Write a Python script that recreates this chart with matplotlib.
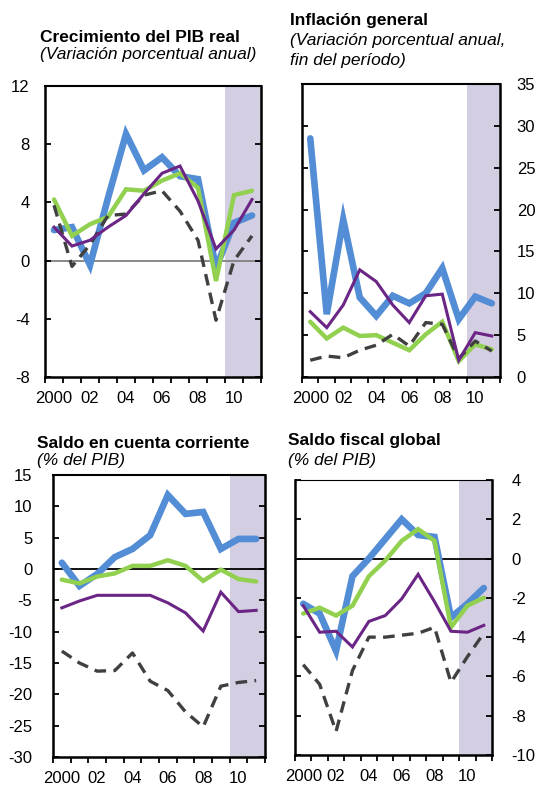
import matplotlib
matplotlib.use('Agg')
import matplotlib.pyplot as plt
import numpy as np

plt.rcParams['font.family'] = ['Liberation Sans', 'DejaVu Sans']

years = list(range(2000, 2012))
tick_years = [2000, 2002, 2004, 2006, 2008, 2010]
tick_labels = ['2000', '02', '04', '06', '08', '10']

# Crecimiento del PIB real
gdp_blue = [2.1, 2.3, -0.3, 4.3, 8.7, 6.2, 7.1, 5.8, 5.6, -0.5, 2.6, 3.1]
gdp_green = [4.2, 1.7, 2.5, 3.0, 4.9, 4.8, 5.5, 6.0, 5.0, -1.4, 4.5, 4.8]
gdp_purple = [2.3, 1.0, 1.4, 2.3, 3.1, 4.6, 6.0, 6.5, 4.1, 0.8, 2.1, 4.2]
gdp_dash = [3.8, -0.4, 1.1, 3.1, 3.2, 4.5, 4.8, 3.4, 1.4, -4.1, 0.0, 1.7]

# Inflación general
inf_blue = [28.5, 7.5, 18.8, 9.5, 7.3, 9.7, 8.8, 10.0, 13.0, 6.9, 9.6, 8.8]
inf_green = [6.6, 4.6, 5.9, 4.9, 5.0, 4.1, 3.2, 5.1, 6.6, 1.9, 3.9, 3.3]
inf_purple = [7.8, 5.9, 8.6, 12.8, 11.4, 8.6, 6.5, 9.7, 9.9, 2.0, 5.3, 4.9]
inf_dash = [2.0, 2.5, 2.3, 3.2, 3.8, 5.1, 3.7, 6.5, 6.3, 2.2, 4.3, 3.1]

# Saldo en cuenta corriente
ca_blue = [1.0, -2.7, -0.8, 1.9, 3.2, 5.4, 11.8, 8.8, 9.1, 3.2, 4.8, 4.8]
ca_green = [-1.7, -2.3, -1.2, -0.7, 0.5, 0.5, 1.4, 0.5, -1.9, -0.1, -1.6, -2.0]
ca_purple = [-6.2, -5.1, -4.2, -4.2, -4.2, -4.2, -5.4, -7.0, -9.9, -3.7, -6.8, -6.6]
ca_dash = [-13.1, -15.0, -16.3, -16.2, -13.4, -17.9, -19.4, -22.8, -25.2, -18.7, -18.1, -17.8]

# Saldo fiscal global
fis_blue = [-2.3, -2.8, -4.7, -0.9, 0.0, 1.0, 2.0, 1.2, 1.1, -3.0, -2.3, -1.5]
fis_green = [-2.8, -2.5, -2.9, -2.4, -0.9, -0.1, 0.9, 1.5, 0.9, -3.5, -2.4, -2.0]
fis_purple = [-2.4, -3.75, -3.7, -4.5, -3.2, -2.9, -2.05, -0.8, -2.2, -3.7, -3.75, -3.4]
fis_dash = [-5.4, -6.4, -8.8, -5.7, -4.0, -4.0, -3.9, -3.8, -3.5, -6.3, -5.0, -3.8]

BLUE = '#538dd5'
GREEN = '#92d050'
PURPLE = '#6a2585'
DARK = '#404040'
SHADE = '#d4cee3'

W, H = 540, 787
fig = plt.figure(figsize=(W / 100, H / 100), dpi=100)


def px_axes(left, top, right, bottom):
    return fig.add_axes([left / W, 1 - bottom / H, (right - left) / W, (bottom - top) / H])


def panel(ax, series, ylim, ystep, side, zero_color, ypad, spine_top=1.5):
    blue, green, purple, dash = series
    ax.axvspan(2009.5, 2011.5, color=SHADE, lw=0, zorder=0)
    if zero_color:
        ax.axhline(0, color=zero_color, lw=1.3, zorder=1)
    ax.plot(years, blue, color=BLUE, lw=4.8, solid_capstyle='round', solid_joinstyle='miter', zorder=3)
    ax.plot(years, green, color=GREEN, lw=3.2, solid_capstyle='round', solid_joinstyle='miter', zorder=4)
    ax.plot(years, dash, color=DARK, lw=2.4, dashes=(3.5, 2.2), zorder=5)
    ax.plot(years, purple, color=PURPLE, lw=2.2, solid_joinstyle='miter', zorder=6)

    ax.set_xlim(1999.5, 2011.5)
    ax.set_ylim(*ylim)
    ax.set_yticks(np.arange(ylim[0], ylim[1] + 0.1, ystep))
    ax.set_yticklabels([f'{int(v)}' for v in np.arange(ylim[0], ylim[1] + 0.1, ystep)])
    ax.set_xticks(tick_years)
    ax.set_xticklabels(tick_labels)
    ax.set_xticks(np.arange(1999.5, 2012, 1), minor=True)
    ax.tick_params(axis='x', which='major', length=0, pad=10, labelsize=12)
    ax.tick_params(axis='x', which='minor', direction='out', length=4, width=1.3)
    ax.tick_params(axis='y', direction='in', length=4, width=1.3, left=True, right=True,
                   labelleft=(side == 'left'), labelright=(side == 'right'),
                   pad=ypad, labelsize=12)
    for s in ax.spines.values():
        s.set_linewidth(1.8)
    ax.spines['top'].set_linewidth(spine_top)


ax1 = px_axes(45, 86, 261, 377)
panel(ax1, (gdp_blue, gdp_green, gdp_purple, gdp_dash), (-8, 12), 4, 'left', '#808080', 11)

ax2 = px_axes(302, 84, 500, 377)
panel(ax2, (inf_blue, inf_green, inf_purple, inf_dash), (0, 35), 5, 'right', None, 12)

ax3 = px_axes(53, 475, 265, 757)
panel(ax3, (ca_blue, ca_green, ca_purple, ca_dash), (-30, 15), 5, 'left', 'black', 15)

ax4 = px_axes(295, 480, 492, 755)
panel(ax4, (fis_blue, fis_green, fis_purple, fis_dash), (-10, 4), 2, 'right', 'black', 14, spine_top=0.8)
for lbl in ax4.get_yticklabels():
    lbl.set_horizontalalignment('left')


def title(x, y, text):
    fig.text(x / W, 1 - y / H, text, fontsize=12.5, fontweight='bold', va='center', ha='left')


def sub(x, y, text):
    fig.text(x / W, 1 - y / H, text, fontsize=12.5, style='italic', va='center', ha='left')


title(40, 37, 'Crecimiento del PIB real')
sub(40, 55, '(Variación porcentual anual)')
title(290, 21, 'Inflación general')
sub(290, 41, '(Variación porcentual anual,')
sub(290, 60, 'fin del período)')
title(37, 443, 'Saldo en cuenta corriente')
sub(37, 461, '(% del PIB)')
title(288, 440, 'Saldo fiscal global')
sub(288, 460, '(% del PIB)')

fig.savefig('out.png', dpi=100)
